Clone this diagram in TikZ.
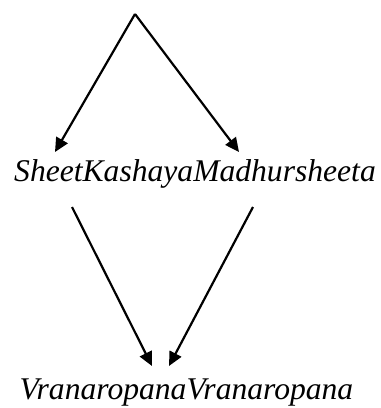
\documentclass[tikz,border=0pt]{standalone}
\usepackage{fontspec}
\setmainfont{Liberation Serif}
\usetikzlibrary{arrows.meta}
\tikzset{
  conn/.style={line width=2.2pt,-{Triangle[length=14pt,width=13pt]}},
  label/.style={anchor=base,inner sep=0pt,font=\fontsize{31.6}{36}\selectfont\itshape}
}
\begin{document}
\begin{tikzpicture}[x=1pt,y=-1pt]
\useasboundingbox (0,0) rectangle (381,408);
\coordinate (top) at (135,14);
\coordinate (t1) at (55,152);
\coordinate (t2) at (239,152);
\node[label] (mid) at (195,181.7) {SheetKashayaMadhursheeta};
\coordinate (s1) at (72,207);
\coordinate (s2) at (253,207);
\coordinate (b1) at (152,366);
\coordinate (b2) at (169,366);
\node[label] (bot) at (186.5,399.5) {VranaropanaVranaropana};
\draw[conn] (top) -- (t1);
\draw[conn] (top) -- (t2);
\draw[conn] (s1) -- (b1);
\draw[conn] (s2) -- (b2);
\end{tikzpicture}
\end{document}
